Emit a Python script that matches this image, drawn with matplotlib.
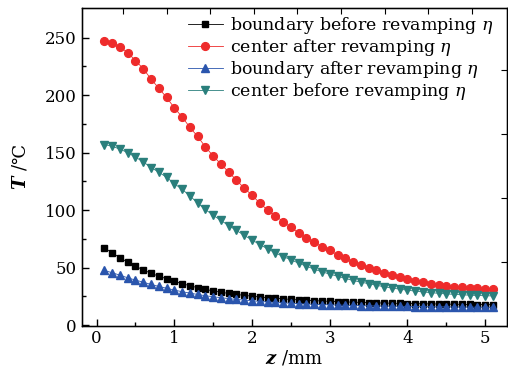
import matplotlib.pyplot as plt
import numpy as np

plt.rcParams['font.family'] = ['DejaVu Serif', 'DejaVu Sans']
plt.rcParams['mathtext.fontset'] = 'dejavuserif'

# distance z (mm)
z = np.round(np.arange(0.1, 5.15, 0.1), 1)

# temperature (deg C)
boundary_before = [67, 63, 58.5, 54.7, 51.2, 48, 45, 42.5, 40.3, 38,
                   36, 34.2, 32.5, 31, 29.7, 28.5, 27.5, 26.6, 25.8, 25.1,
                   24.4, 23.8, 23.3, 22.8, 22.3, 21.9, 21.5, 21.2, 20.9, 20.6,
                   20.3, 20.1, 19.9, 19.7, 19.5, 19.3, 19.1, 19.0, 18.8, 18.7,
                   18.6, 18.5, 18.4, 18.3, 18.2, 18.1, 18.0, 17.9, 17.8, 17.8, 17.7]
center_after = [247, 245, 242, 237, 230, 223, 214, 206, 198, 189,
                181, 172, 164, 155, 147, 140, 133, 126, 119, 113,
                106, 100, 95, 90, 85, 80, 76, 72, 68, 65,
                61, 58, 55, 52, 50, 48, 45.5, 43.5, 41.5, 40,
                38.3, 37, 36, 35, 34, 33.3, 32.7, 32.2, 32, 31.7, 31.6]
boundary_after = [47.5, 45.5, 43.4, 41.1, 39.1, 37.3, 35.3, 33.6, 32, 30.4,
                  29, 27.8, 26.6, 25.5, 24.6, 23.8, 23, 22.3, 21.7, 21.1,
                  20.6, 20.1, 19.7, 19.3, 18.9, 18.6, 18.3, 18.0, 17.8, 17.6,
                  17.4, 17.2, 17.0, 16.9, 16.7, 16.6, 16.5, 16.4, 16.3, 16.2,
                  16.1, 16.0, 15.9, 15.8, 15.8, 15.7, 15.6, 15.6, 15.5, 15.5, 15.4]
center_before = [157, 155.5, 153, 150, 146, 142, 137, 133, 128.5, 123,
                 118, 112.5, 106, 100.5, 95.5, 91, 86.5, 82.3, 78, 74,
                 70, 66.3, 62.8, 59.6, 56.8, 53.8, 51.2, 48.6, 46.3, 44.3,
                 42.5, 40.5, 38.8, 37.3, 36, 34.6, 33.3, 32.2, 31.2, 30.3,
                 29.5, 28.8, 28.2, 27.6, 27.1, 26.7, 26.3, 26, 25.7, 25.5, 25.3]

labels = [r'boundary before revamping $\eta$',
          r'center after revamping $\eta$',
          r'boundary after revamping $\eta$',
          r'center before revamping $\eta$']

fig = plt.figure(figsize=(5.08, 3.76), dpi=100)
ax = fig.add_axes([0.161, 0.134, 0.837, 0.844])

ax.plot(z, boundary_before, 's-', color='black', lw=0.6, ms=5, label=labels[0])
ax.plot(z, center_after, 'o-', color='#ee2b2b', lw=0.6, ms=5.6, label=labels[1])
ax.plot(z, boundary_after, '^-', color='#2a55ad', lw=0.6, ms=5.8, label=labels[2])
ax.plot(z, center_before, 'v-', color='#2a7f7c', lw=0.6, ms=5.8, label=labels[3])

ax.set_xlim(-0.19, 5.28)
ax.set_ylim(-0.5, 275.5)
ax.set_xticks([0, 1, 2, 3, 4, 5])
ax.set_xticks(np.arange(0.5, 5.1, 1.0), minor=True)
ax.set_yticks([0, 50, 100, 150, 200, 250])
ax.set_yticks(np.arange(25, 275, 50), minor=True)
ax.tick_params(which='both', direction='in', labelsize=12, width=1)
ax.tick_params(which='major', length=5)
ax.tick_params(which='minor', length=3)
for s in ax.spines.values():
    s.set_linewidth(1)

# opposite-side ticks (own spacing, no labels)
top = ax.twiny()
top.set_xlim(0, 1)
top.set_xticks(np.arange(0.097, 0.93, 0.1025))
top.tick_params(direction='in', length=4, labeltop=False)
right = ax.twinx()
right.set_ylim(0, 1)
right.set_yticks([0.2016, 0.4032, 0.6048, 0.8064])
right.tick_params(direction='in', length=4, labelright=False)

ax.set_xlabel(r'$\mathbfit{z}$ /mm', fontsize=13, labelpad=1)
ax.set_ylabel(r'$\mathbfit{T}$ /℃', fontsize=13, labelpad=11)

ax.legend(loc='upper left', bbox_to_anchor=(0.25, 0.978), frameon=False,
          fontsize=12.5, handlelength=2.0, handletextpad=0.4,
          labelspacing=0.05, borderpad=0, borderaxespad=0)

fig.savefig('out.png', dpi=100)
